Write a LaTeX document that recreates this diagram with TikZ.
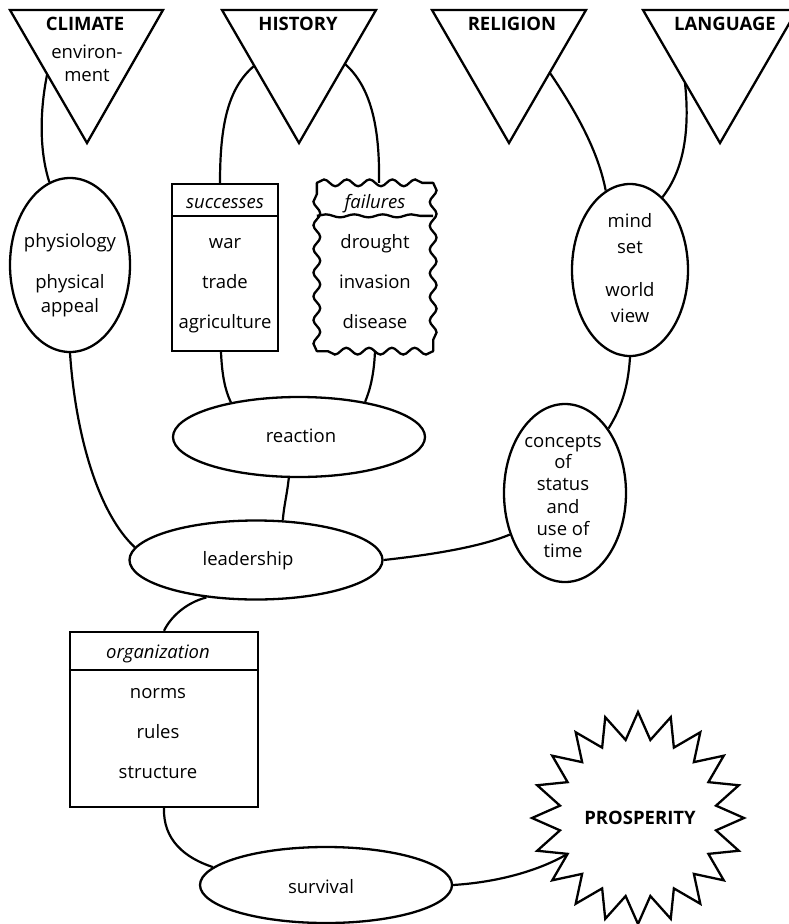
\documentclass[tikz,border=0pt]{standalone}
\usepackage{fontspec}
\setmainfont{Open Sans}
\usetikzlibrary{shapes.geometric,decorations.pathmorphing,calc}
\begin{document}
\begin{tikzpicture}[x=1pt,y=-1pt,line width=2.3pt,line join=miter,
  t/.style={font=\fontsize{18.5}{22}\selectfont,inner sep=0pt,anchor=base,yshift=-5.5pt},
  ti/.style={font=\itshape\fontsize{18.5}{22}\selectfont,inner sep=0pt,anchor=base,yshift=-5.5pt},
  tb/.style={font=\bfseries\fontsize{18.5}{22}\selectfont,inner sep=0pt,anchor=base,yshift=-6.5pt},
  ell/.style={draw,ellipse,inner sep=0pt},
  boxn/.style={draw,rectangle,inner sep=0pt},
  wavyh/.style={decorate,line cap=round,decoration={snake,amplitude=3.4pt,segment length=22.79pt}},
  wavyv/.style={decorate,line cap=round,decoration={snake,amplitude=3.4pt,segment length=23.70pt}},
  wavyb/.style={decorate,decoration={snake,amplitude=1.5pt,segment length=28.49pt}},
  conn/.style={line width=2.2pt}]
\useasboundingbox (0,0) rectangle (789,924);

% triangles
\draw (10,10) -- (163,10) -- (87,143) -- cycle;
\draw (222,10) -- (376,10) -- (299,143) -- cycle;
\draw (432,10) -- (586,10) -- (509,143) -- cycle;
\draw (643,10) -- (797,10) -- (720,143) -- cycle;
\node[tb] (climate) at (85,24) {CLIMATE};
\node[t] (env1) at (87,53) {environ-};
\node[t] (env2) at (87,76) {ment};
\node[tb] (history) at (298,24) {HISTORY};
\node[tb] (religion) at (512,24) {RELIGION};
\node[tb] (language) at (725,24) {LANGUAGE};
\coordinate (c1) at (47,75);
\coordinate (hl) at (254,66);
\coordinate (hr) at (345,64);
\coordinate (rl) at (550,73);
\coordinate (ll) at (685,83);

% physiology
\node[ell,minimum width=120pt,minimum height=174pt] (phys) at (70,265) {};
\node[t] (p1) at (70,242) {physiology};
\node[t] (p2) at (70,283) {physical};
\node[t] (p3) at (70,307) {appeal};

% successes
\node[boxn,minimum width=106pt,minimum height=167pt] (succ) at (225,267.5) {};
\draw ($(succ.north west)+(0,33)$) -- ($(succ.north east)+(0,33)$);
\node[ti] (s0) at (225,203) {successes};
\node[t] (s1) at (225,243) {war};
\node[t] (s2) at (225,283) {trade};
\node[t] (s3) at (225,323) {agriculture};

% failures
\node[inner sep=0pt,minimum width=114pt,minimum height=166pt] (fail) at (375,267) {};
\draw[wavyh] (fail.north west) -- (fail.north east);
\draw[wavyv] (fail.north east) -- (fail.south east);
\draw[wavyh] (fail.south east) -- (fail.south west);
\draw[wavyv] (fail.south west) -- (fail.north west);
\draw[wavyb] ($(fail.north west)+(0,33)$) -- ($(fail.north east)+(0,33)$);
\node[ti] (f0) at (375,203) {failures};
\node[t] (f1) at (375,243) {drought};
\node[t] (f2) at (375,283) {invasion};
\node[t] (f3) at (375,323) {disease};

% mind set
\node[ell,minimum width=116pt,minimum height=172pt] (mind) at (630,270) {};
\node[t] (m1) at (630,222) {mind};
\node[t] (m2) at (630,248) {set};
\node[t] (m3) at (630,291) {world};
\node[t] (m4) at (630,317) {view};

% reaction, leadership
\node[ell,minimum width=252pt,minimum height=80pt] (react) at (299,437) {};
\node[t] (rt) at (301,437) {reaction};
\node[ell,minimum width=253pt,minimum height=79pt] (lead) at (256,560) {};
\node[t] (lt) at (248,560) {leadership};

% concepts
\node[ell,minimum width=122pt,minimum height=178pt] (conc) at (565,493) {};
\node[t] (k1) at (563,442) {concepts};
\node[t] (k2) at (563,463) {of};
\node[t] (k3) at (563,485) {status};
\node[t] (k4) at (563,508) {and};
\node[t] (k5) at (563,530) {use of};
\node[t] (k6) at (563,552) {time};

% organization
\node[boxn,minimum width=188pt,minimum height=175pt] (org) at (164,719.5) {};
\draw ($(org.north west)+(0,39)$) -- ($(org.north east)+(0,39)$);
\node[ti] (o0) at (158,653) {organization};
\node[t] (o1) at (158,693) {norms};
\node[t] (o2) at (158,733) {rules};
\node[t] (o3) at (158,773) {structure};

% survival
\node[ell,minimum width=252pt,minimum height=76pt] (surv) at (326,885) {};
\node[t] (svt) at (321,888) {survival};

% prosperity star
\draw plot[domain=0:39,samples=40,variable=\k]
  ({638+(92.5+13.5*cos(180*\k))*cos(90+9*\k)},{818-(92.5+13.5*cos(180*\k))*sin(90+9*\k)}) -- cycle;
\coordinate (starv) at ({638+79*cos(207)},{818-79*sin(207)});
\node[tb] (pt) at (640,818) {PROSPERITY};

% connectors
\draw[conn] (c1) .. controls (40,110) and (39,150) .. (phys.104);
\draw[conn] (phys.south) .. controls (76,440) and (100,515) .. (lead.174);
\draw[conn] (hl) .. controls (228,88) and (220,125) .. ([xshift=-5pt]succ.north);
\draw[conn] (hr) .. controls (370,86) and (380,125) .. ([xshift=4pt]fail.north);
\draw[conn] ([xshift=-4pt]succ.south) .. controls (222,375) and (225,390) .. (react.153);
\draw[conn] (fail.south) .. controls (374,375) and (370,390) .. (react.28);
\draw[conn] (react.256) .. controls (287,495) and (284,505) .. (lead.56);
\draw[conn] (lead.east) .. controls (430,555) and (480,547) .. (conc.217);
\draw[conn] (lead.217) .. controls (185,603) and (170,618) .. (org.north);
\draw[conn] (org.south) .. controls (163,840) and (185,858) .. (surv.171);
\draw[conn] (surv.east) .. controls (500,882) and (540,870) .. (starv);
\draw[conn] (rl) .. controls (575,110) and (598,150) .. (mind.107);
\draw[conn] (ll) .. controls (690,130) and (684,170) .. (mind.66);
\draw[conn] (mind.south) .. controls (628,390) and (620,410) .. (conc.56);
\end{tikzpicture}
\end{document}
